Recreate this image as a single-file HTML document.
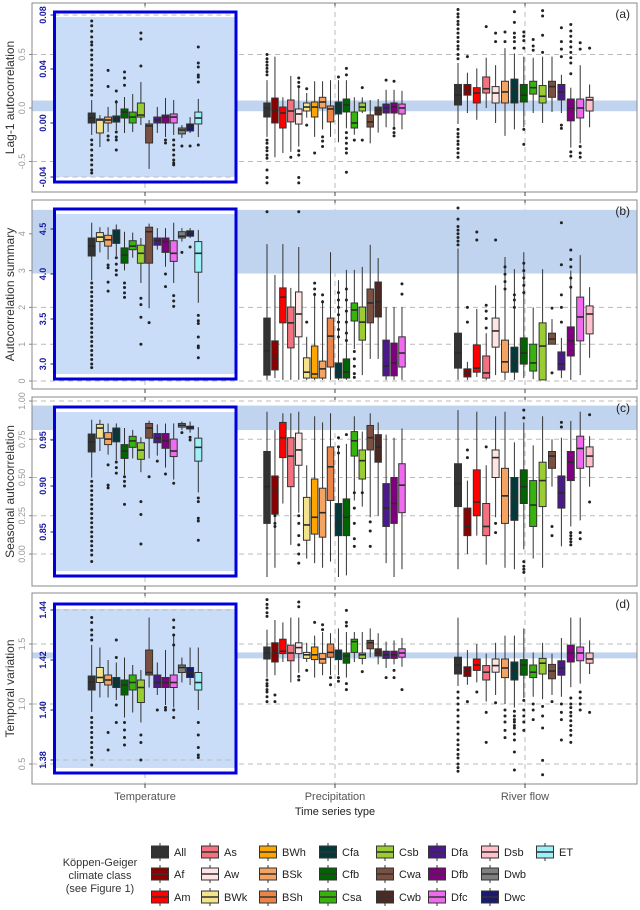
<!DOCTYPE html>
<html><head><meta charset="utf-8"><style>
body{margin:0;background:#fff;}
svg{display:block;font-family:"Liberation Sans",sans-serif;}
</style></head><body>
<svg id="fig" width="640" height="910" viewBox="0 0 640 910" xmlns="http://www.w3.org/2000/svg"></svg>
<script>
// ---------- class colours ----------
const classColors={All:"#333333",Af:"#8b0000",Am:"#ff0000",As:"#f4717f",Aw:"#ffe4e4",BWk:"#f2e38c",BWh:"#ffa500",BSk:"#f4a460",BSh:"#ea8449",Cfa:"#053838",Cfb:"#006400",Csa:"#37b40c",Csb:"#9acd32",Cwa:"#7b5040",Cwb:"#4a2a22",Dfa:"#4b1a8a",Dfb:"#800080",Dfc:"#ee6aee",Dsb:"#ffc0cb",Dwb:"#808080",Dwc:"#1a1a6e",ET:"#9ef0f8"};
const tempClasses=["All","BWk","BSk","Cfa","Cfb","Csa","Csb","Cwa","Dfa","Dfb","Dfc","Dwb","Dwc","ET"];
const precClasses=["All","Af","Am","As","Aw","BWk","BWh","BSk","BSh","Cfa","Cfb","Csa","Csb","Cwa","Cwb","Dfa","Dfb","Dfc"];
const riverClasses=["All","Af","Am","As","Aw","BSk","Cfa","Cfb","Csa","Csb","Cwa","Dfa","Dfb","Dfc","Dsb"];
const groupLabels=["Temperature","Precipitation","River flow"];

// ---------- panel (a) Lag-1 autocorrelation: [lo,q1,med,q3,hi] ----------
const aTempStats=[[-0.0089,0,0.0037,0.0074,0.017],[-0.0178,-0.0074,0.0022,0.003,0.0059],[-0.0067,0,0.0022,0.0044,0.0119],[-0.0052,0.0007,0.003,0.0052,0.017],[-0.0074,0.0037,0.0081,0.0104,0.0193],[-0.0067,0,0.0044,0.0081,0.0215],[-0.0015,0.0044,0.0059,0.0148,0.0304],[-0.034,-0.0148,-0.0022,-0.0007,0.0022],[-0.0074,0,0.0022,0.0044,0.0119],[-0.0104,0,0.0044,0.0059,0.0185],[-0.0089,0,0.0044,0.0067,0.017],[-0.0111,-0.0081,-0.0052,-0.0037,-0.0015],[-0.0074,-0.0059,-0.003,-0.0007,0.0044],[-0.0104,-0.0007,0.0037,0.0081,0.0178]];
const aTempOut=[[0.0756,0.072,0.068,0.0637,0.06,0.0578,0.054,0.0504,0.047,0.043,0.039,0.0356,0.032,0.028,0.024,0.0207,-0.0126,-0.016,-0.02,-0.024,-0.0274,-0.031,-0.0348,-0.037],[],[0.039,0.027,-0.0096,-0.0126],[0.0237,0.0156,-0.0067,-0.0104,-0.0126,-0.02],[0.0378,0.0333,0.028],[],[0.0667,0.0622,0.0422],[],[],[-0.0126,-0.0148],[-0.0126,-0.0163,-0.02,-0.0237,-0.0274,-0.0296,-0.031],[-0.017],[-0.017],[0.0563,0.0444,0.0415,0.0356,0.034,0.0304,-0.0163]];
const aPrecStats=[[-0.27,-0.084,0,0.047,0.26],[-0.46,-0.14,-0.019,0.093,0.48],[-0.42,-0.187,-0.047,0.009,0.1],[-0.41,-0.13,-0.028,0.075,0.3],[-0.36,-0.15,-0.056,-0.009,0.2],[-0.09,-0.028,0.009,0.047,0.14],[-0.27,-0.084,0.009,0.056,0.25],[-0.2,0,0.056,0.1,0.25],[-0.27,-0.13,-0.009,0.019,0.26],[-0.32,-0.056,0.009,0.056,0.26],[-0.19,-0.037,0.028,0.084,0.26],[-0.25,-0.187,-0.14,-0.037,0.1],[-0.047,-0.028,0.009,0.047,0.1],[-0.33,-0.178,-0.13,-0.065,0.075],[-0.23,-0.065,-0.019,0.009,0.084],[-0.18,-0.047,0,0.037,0.17],[-0.18,-0.047,0.009,0.047,0.17],[-0.2,-0.056,0,0.037,0.16]];
const aPrecOut=[[0.5,0.46,0.43,0.4,0.37,0.34,0.31,-0.3,-0.33,-0.37,-0.4,-0.44,-0.47,-0.58,-0.65,-0.7],[],[],[-0.46],[0.28,0.24,0.2,-0.4,-0.44,-0.65,-0.7],[0.18,-0.16],[-0.42],[-0.27,-0.31,-0.36],[],[0.29],[0.37,0.31,-0.23,-0.28,-0.33,-0.38,-0.42,-0.6],[-0.3],[0.19,-0.3],[],[],[0.26],[0.25,-0.19,-0.23,-0.26],[]];
const aRiverStats=[[-0.15,0.028,0.12,0.22,0.42],[-0.047,0.12,0.17,0.22,0.33],[-0.11,0.047,0.14,0.19,0.37],[0,0.14,0.18,0.29,0.47],[-0.14,0.047,0.14,0.2,0.4],[-0.26,0.047,0.15,0.25,0.56],[-0.2,0.047,0.18,0.27,0.51],[-0.18,0.056,0.12,0.22,0.48],[-0.047,0.13,0.19,0.25,0.47],[-0.14,0.047,0.11,0.21,0.48],[-0.037,0.1,0.2,0.25,0.48],[-0.047,0.075,0.15,0.22,0.31],[-0.37,-0.12,0,0.084,0.19],[-0.33,-0.093,0,0.084,0.4],[-0.18,-0.028,0.075,0.1,0.22]];
const aRiverOut=[[0.92,0.88,0.85,0.81,0.78,0.74,0.7,0.66,0.62,0.58,0.55,0.5,0.46,-0.2,-0.24,-0.27,-0.31,-0.34,-0.38,-0.42,-0.46],[0.48],[],[0.76],[0.7,0.62],[0.71,0.62],[0.9,0.8,0.7,0.66,0.62,0.56],[0.71,0.67,0.63,0.56,-0.2,-0.34],[0.64,0.58,0.54],[0.91,0.86,0.68,0.52],[],[0.75,0.62,0.55,0.48,-0.16,-0.19],[0.78,0.72,0.67,0.62,0.57,0.52,0.47,0.42,0.32,-0.41,-0.45],[0.61,0.55,-0.36,-0.42,-0.46],[0.56]];

// ---------- panel (b) Autocorrelation summary ----------
const bTempStats=[[3.93,4.2,4.31,4.4,4.57],[4.24,4.36,4.41,4.46,4.52],[4.16,4.31,4.38,4.43,4.52],[4.2,4.34,4.4,4.49,4.55],[4.04,4.12,4.21,4.29,4.47],[4.18,4.27,4.31,4.37,4.46],[3.9,4.12,4.23,4.32,4.4],[3.62,4.12,4.47,4.52,4.56],[4.27,4.32,4.37,4.4,4.51],[4.08,4.24,4.36,4.4,4.51],[3.9,4.14,4.23,4.37,4.57],[4.36,4.4,4.42,4.47,4.51],[4.4,4.42,4.46,4.48,4.51],[3.68,4.02,4.23,4.36,4.49]];
const bTempOut=[[3.9,3.85,3.8,3.75,3.7,3.65,3.6,3.55,3.5,3.45,3.4,3.35,3.3,3.25,3.2,3.15,3.1,3.05,3.0,2.96],[],[4.1,4.07,3.91,3.81],[4.18,4.11,4.04,3.99],[3.9,3.85,3.79,3.74],[],[3.73,3.66,3.52,3.22],[3.46],[],[4.0,3.86],[3.76,3.7,3.64],[4.24],[4.3],[3.54,3.48,3.45,3.3,3.2,3.18,3.07]];
const bPrecStats=[[0.03,0.16,0.82,1.71,3.72],[0.08,0.3,0.63,1.09,2.88],[0.03,1.58,2.28,2.53,3.72],[0.03,0.9,1.58,2.01,2.53],[0.03,1.2,1.82,2.42,3.64],[0.03,0.08,0.24,0.63,1.2],[0.03,0.08,0.19,0.95,2.4],[0.03,0.08,0.33,0.54,2.2],[0.03,0.38,1.22,1.71,3.5],[0.03,0.08,0.22,0.49,2.74],[0.03,0.08,0.24,0.6,3.02],[0.87,1.63,1.93,2.12,3.02],[0.16,1.11,1.6,2.01,3.1],[0.6,1.58,2.12,2.5,3.7],[0.6,1.74,2.15,2.69,3.34],[0.03,0.14,0.41,1.11,2.01],[0.03,0.14,0.49,1.03,2.01],[0.03,0.38,0.76,1.2,2.01]];
const bPrecOut=[[4.6],[],[],[],[4.6],[1.6],[2.66,2.5,2.35],[2.34,2.15],[],[2.4,2.2,2.0,1.8,1.6,1.4,1.2],[2.5,2.2,1.9,1.6,1.3,1.1],[0.8,0.6,0.4,0.2,0.1],[],[],[],[],[],[2.64,2.36]];
const bRiverStats=[[0.03,0.35,0.76,1.3,3.6],[0.03,0.11,0.22,0.33,0.52],[0.11,0.24,0.35,0.98,1.96],[0.03,0.08,0.22,0.68,1.3],[0.16,0.92,1.36,1.71,2.6],[0.03,0.24,0.52,1.11,3.37],[0.03,0.24,0.54,0.92,3.04],[0.08,0.46,0.76,1.17,3.5],[0.05,0.27,0.49,1.0,2.0],[0.03,0.03,0.95,1.58,3.04],[1.0,1.0,1.14,1.3,1.68],[0.08,0.3,0.46,0.79,1.17],[0.03,0.68,1.09,1.47,3.0],[0.16,1.09,1.74,2.28,3.42],[0.63,1.28,1.82,2.04,2.55]];
const bRiverOut=[[4.7,4.4,4.2,4.1,4.0,3.9,3.8,3.7],[2.0,1.6],[4.05,3.83],[2.06,1.9,1.7,1.44],[3.83],[3.1,2.9,2.7,2.5],[2.34,2.2,2.0],[3.2,3.0,2.8,2.6,2.4],[],[],[1.98,0.22],[4.3,3.16,2.34,2.0,1.6],[3.56,3.3,3.1,2.8,2.55],[],[]];

// ---------- panel (c) Seasonal autocorrelation ----------
const cTempStats=[[0.909,0.937,0.948,0.9565,0.972],[0.938,0.952,0.963,0.967,0.972],[0.934,0.945,0.951,0.958,0.968],[0.928,0.948,0.959,0.963,0.968],[0.912,0.93,0.938,0.945,0.963],[0.93,0.942,0.949,0.954,0.961],[0.915,0.929,0.939,0.947,0.953],[0.93,0.952,0.963,0.968,0.971],[0.933,0.947,0.952,0.957,0.967],[0.92,0.941,0.949,0.957,0.968],[0.907,0.932,0.938,0.951,0.968],[0.961,0.964,0.966,0.968,0.97],[0.958,0.962,0.964,0.965,0.97],[0.893,0.927,0.942,0.952,0.964]];
const cTempOut=[[0.905,0.9,0.895,0.89,0.885,0.88,0.875,0.87,0.865,0.86,0.855,0.85,0.845,0.84,0.835,0.83,0.825,0.818],[],[0.923,0.901,0.898],[0.926,0.92,0.914],[0.91,0.905,0.9,0.88],[],[0.883,0.869,0.837],[0.91],[0.927],[0.913],[0.903],[0.958],[0.953,0.95],[0.887,0.883,0.865,0.862,0.841]];
const cPrecStats=[[-0.15,0.2,0.44,0.67,0.93],[-0.09,0.26,0.41,0.51,0.81],[0.33,0.63,0.76,0.86,0.92],[0.06,0.44,0.64,0.76,0.92],[0.27,0.58,0.68,0.79,0.93],[-0.03,0.09,0.19,0.37,0.58],[-0.06,0.13,0.24,0.49,0.9],[-0.09,0.11,0.27,0.43,0.86],[-0.05,0.35,0.57,0.7,0.92],[-0.15,0.12,0.2,0.33,0.7],[-0.14,0.12,0.24,0.36,0.72],[0.35,0.64,0.74,0.8,0.9],[0.31,0.49,0.61,0.68,0.8],[0.24,0.68,0.76,0.84,0.92],[0.25,0.6,0.7,0.78,0.86],[-0.06,0.18,0.3,0.46,0.78],[-0.15,0.2,0.33,0.5,0.76],[-0.1,0.27,0.45,0.59,0.82]];
const cPrecOut=[[],[0.25,0.2,0.18],[],[],[0.25,0.2,0.12,0.06,0.0,-0.06],[],[],[],[],[0.76,0.7,0.66],[0.78],[0.4,0.3,0.2,0.1,0.05],[0.4],[0.21,0.15,0.05],[],[],[],[]];
const cRiverStats=[[-0.1,0.31,0.46,0.59,0.94],[0,0.12,0.18,0.3,0.48],[0.12,0.25,0.34,0.55,0.93],[-0.07,0.12,0.18,0.33,0.58],[0.24,0.5,0.63,0.68,0.9],[-0.09,0.2,0.38,0.56,0.93],[-0.1,0.22,0.37,0.5,0.73],[0.03,0.33,0.44,0.55,0.86],[-0.03,0.18,0.32,0.48,0.71],[-0.09,0.31,0.48,0.6,0.9],[0.44,0.56,0.64,0.67,0.75],[0.05,0.3,0.4,0.51,0.76],[0.18,0.48,0.6,0.67,0.87],[0.22,0.56,0.69,0.77,0.93],[0.44,0.57,0.64,0.7,0.77]];
const cRiverOut=[[],[0.68,0.63],[],[0.7],[0.2,0.14],[],[],[0.94,0.89,-0.05,-0.08,-0.1,-0.12],[],[],[0.18,0.12],[0.86,0.83],[0.14,0.12,0.1,0.08,0.06],[0.14,0.1],[0.91,0.34]];

// ---------- panel (d) Temporal variation ----------
const dTempStats=[[1.3992,1.408,1.4112,1.4136,1.426],[1.405,1.411,1.413,1.417,1.425],[1.405,1.41,1.412,1.414,1.42],[1.404,1.409,1.411,1.413,1.419],[1.397,1.406,1.41,1.412,1.421],[1.399,1.408,1.411,1.414,1.418],[1.395,1.403,1.409,1.412,1.416],[1.409,1.414,1.415,1.424,1.437],[1.406,1.409,1.411,1.414,1.419],[1.402,1.409,1.411,1.413,1.424],[1.401,1.409,1.411,1.414,1.43],[1.411,1.415,1.417,1.418,1.421],[1.41,1.413,1.415,1.417,1.425],[1.4,1.408,1.411,1.415,1.425]];
const dTempOut=[[1.437,1.435,1.432,1.43,1.428,1.397,1.395,1.393,1.391,1.389,1.387,1.385,1.383,1.381,1.378],[],[1.391,1.384],[1.428,1.421,1.402,1.395],[1.395,1.392,1.389,1.386],[],[1.39,1.387,1.38],[],[1.4],[1.401,1.4],[1.436,1.433,1.43,1.426,1.4,1.397],[],[],[1.395,1.39,1.385,1.382,1.381]];
const dPrecStats=[[1.22,1.375,1.425,1.475,1.62],[1.24,1.35,1.425,1.51,1.7],[1.35,1.42,1.44,1.54,1.68],[1.18,1.36,1.425,1.49,1.72],[1.26,1.42,1.47,1.51,1.72],[1.35,1.38,1.41,1.43,1.51],[1.22,1.37,1.41,1.475,1.57],[1.24,1.34,1.375,1.42,1.6],[1.24,1.39,1.43,1.5,1.59],[1.24,1.37,1.41,1.45,1.63],[1.22,1.34,1.4,1.425,1.6],[1.35,1.43,1.52,1.54,1.6],[1.33,1.38,1.41,1.425,1.6],[1.39,1.46,1.51,1.53,1.63],[1.33,1.4,1.425,1.46,1.59],[1.3,1.38,1.41,1.44,1.52],[1.33,1.38,1.41,1.44,1.53],[1.31,1.39,1.425,1.46,1.55]];
const dPrecOut=[[1.87,1.83,1.8,1.76,1.73,1.2,1.17,1.15,1.12,1.1,1.06,1.02],[1.075,1.02],[],[],[1.85,1.81,1.23,1.2],[1.28],[1.68],[1.66,1.62],[1.22,1.16],[1.22,1.19],[1.78,1.68,1.65,1.17,1.12],[],[1.27],[],[],[1.22],[1.28,1.22],[1.12]];
const dRiverStats=[[1.15,1.25,1.325,1.39,1.72],[1.16,1.23,1.275,1.31,1.45],[1.18,1.28,1.325,1.375,1.5],[1.02,1.2,1.265,1.32,1.42],[1.075,1.265,1.32,1.375,1.51],[1.0,1.22,1.3,1.375,1.57],[0.97,1.2,1.28,1.35,1.57],[1.05,1.24,1.325,1.37,1.63],[1.06,1.22,1.265,1.325,1.43],[1.04,1.25,1.34,1.38,1.51],[1.075,1.21,1.275,1.33,1.42],[1.06,1.24,1.3,1.36,1.55],[1.14,1.35,1.425,1.49,1.72],[1.17,1.36,1.425,1.475,1.72],[1.25,1.34,1.375,1.425,1.53]];
const dRiverOut=[[1.1,1.05,1.0,0.95,0.9,0.85,0.8,0.75,0.7,0.66,0.62,0.58,0.55,0.5,0.47,0.44],[1.02],[1.1],[0.93,0.68],[1.01],[0.95,0.9,0.85,0.78,0.72],[0.94,0.9,0.87,0.85,0.82,0.8,0.75,0.7,0.6,0.45],[1.03,0.95,0.9,0.85,0.78],[1.0,0.95,0.87],[0.98,0.9,0.8,0.53,0.41],[1.02],[1.0,0.93,0.87,0.7],[1.05,1.0,0.97,0.93,0.9,0.86,0.82,0.78,0.74,0.68],[1.1,1.05,1.0,0.95],[0.93]];

// ---------- axis tick labels ----------
const aGrayTicks=[-0.5,0.0,0.5], aGrayLabels=["-0.5","0.0","0.5"];
const aBlueTicks=[-0.04,0.0,0.04,0.08], aBlueLabels=["-0.04","0.00","0.04","0.08"];
const bGrayTicks=[0,1,2,3,4], bGrayLabels=["0","1","2","3","4"];
const bBlueTicks=[3.0,3.5,4.0,4.5], bBlueLabels=["3.0","3.5","4.0","4.5"];
const cGrayTicks=[0,0.25,0.5,0.75,1.0], cGrayLabels=["0.00","0.25","0.50","0.75","1.00"];
const cBlueTicks=[0.85,0.90,0.95], cBlueLabels=["0.85","0.90","0.95"];
const dGrayTicks=[0.5,1.0,1.5], dGrayLabels=["0.5","1.0","1.5"];
const dBlueTicks=[1.38,1.40,1.42,1.44], dBlueLabels=["1.38","1.40","1.42","1.44"];
const aBand=[-0.03,0.07], bBand=[2.92,4.65], cBand=[0.81,0.97], dBand=[1.38,1.43];

// ---------- drawing ----------
const NS="http://www.w3.org/2000/svg";
const svg=document.getElementById("fig");
function el(tag,attrs,parent){const e=document.createElementNS(NS,tag);for(const k in attrs)e.setAttribute(k,attrs[k]);(parent||svg).appendChild(e);return e;}
const L=32,R=637,BX0=54.5,BX1=236;
const groupX=[145,335,525];

const panels=[
 {key:"a",label:"(a)",title:"Lag-1 autocorrelation",top:3,bot:192,btop:12,bbot:182,
  gray:v=>108-107*v,blue:v=>123-1350*v,gT:aGrayTicks,gL:aGrayLabels,bT:aBlueTicks,bL:aBlueLabels,band:aBand,
  temp:[aTempStats,aTempOut],prec:[aPrecStats,aPrecOut],riv:[aRiverStats,aRiverOut],extraDash:[0.08,-0.04]},
 {key:"b",label:"(b)",title:"Autocorrelation summary",top:200,bot:389,btop:209,bbot:379,
  gray:v=>381-36.8*v,blue:v=>634-90*v,gT:bGrayTicks,gL:bGrayLabels,bT:bBlueTicks,bL:bBlueLabels,band:bBand,
  temp:[bTempStats,bTempOut],prec:[bPrecStats,bPrecOut],riv:[bRiverStats,bRiverOut],extraDash:[]},
 {key:"c",label:"(c)",title:"Seasonal autocorrelation",top:397,bot:586,btop:407,bbot:576,
  gray:v=>554-153*v,blue:v=>440-920*(v-0.95),gT:cGrayTicks,gL:cGrayLabels,bT:cBlueTicks,bL:cBlueLabels,band:cBand,
  temp:[cTempStats,cTempOut],prec:[cPrecStats,cPrecOut],riv:[cRiverStats,cRiverOut],extraDash:[]},
 {key:"d",label:"(d)",title:"Temporal variation",top:593,bot:784,btop:604,bbot:773,
  gray:v=>824-120*v,blue:v=>660-2500*(v-1.42),gT:dGrayTicks,gL:dGrayLabels,bT:dBlueTicks,bL:dBlueLabels,band:dBand,
  temp:[dTempStats,dTempOut],prec:[dPrecStats,dPrecOut],riv:[dRiverStats,dRiverOut],extraDash:[1.44,1.38]}
];

function drawBox(g,cx,w,s,outs,y,col){
  const [lo,q1,md,q3,hi]=s;
  const wl=el("line",{x1:cx,x2:cx,y1:y(hi),y2:y(lo),stroke:"#333","stroke-width":1},g);
  
  
  const top=Math.min(y(q1),y(q3)),h=Math.max(1,Math.abs(y(q1)-y(q3)));
  const r=el("rect",{x:cx-w/2,y:top,width:w,height:h,fill:col,stroke:"#333","stroke-width":1},g);
  
  
  const m=el("line",{x1:cx-w/2,x2:cx+w/2,y1:y(md),y2:y(md),stroke:"#2a2a2a","stroke-width":1.6},g);
  
  
  for(const o of outs){
    const c=el("circle",{cx:cx,cy:y(o),r:1.5,fill:"#222"},g);
    
    
  }
}

panels.forEach(p=>{
  const g=el("g",{});
  
  
  // gray dashed gridlines
  p.gT.forEach(t=>{const yy=p.gray(t);if(yy>p.top&&yy<p.bot){const l=el("line",{x1:L,x2:R,y1:yy,y2:yy,stroke:"#bbb","stroke-dasharray":"5,4","stroke-width":1},g);}});
  // vertical dashed
  groupX.forEach(x=>{const l=el("line",{x1:x,x2:x,y1:p.top,y2:p.bot,stroke:"#bbb","stroke-dasharray":"5,4"},g);});
  // band
  const by1=p.gray(p.band[1]),by0=p.gray(p.band[0]);
  const band=el("rect",{x:L,y:Math.max(p.top,by1),width:R-L,height:Math.min(p.bot,by0)-Math.max(p.top,by1),fill:"#c0d4ef"},g);
  
  
  // frame
  const fr=el("rect",{x:L,y:p.top,width:R-L,height:p.bot-p.top,fill:"none",stroke:"#888","stroke-width":1},g);
  
  
  // ticks top/bottom
  groupX.forEach(x=>{el("line",{x1:x,x2:x,y1:p.bot,y2:p.bot+4,stroke:"#444"},g);el("line",{x1:x,x2:x,y1:p.top,y2:p.top+3,stroke:"#444"},g);});
  // gray y ticks + labels
  p.gT.forEach((t,i)=>{const yy=p.gray(t);el("line",{x1:L-3,x2:L,y1:yy,y2:yy,stroke:"#888"},g);
    const tx=el("text",{x:0,y:0,transform:`translate(25,${yy}) rotate(-90)`,"text-anchor":"middle","font-size":9,fill:"#999"},g);tx.textContent=p.gL[i];
    });
  // inset box
  const ib=el("rect",{x:BX0,y:p.btop,width:BX1-BX0,height:p.bbot-p.btop,fill:"#ffffff",stroke:"none"},g);
  const inner=el("rect",{x:BX0,y:p.btop+5,width:BX1-BX0,height:p.bbot-p.btop-10,fill:"#c9ddf8"},g);
  
  
  p.extraDash.forEach(t=>{const yy=p.blue(t);el("line",{x1:BX0,x2:BX1,y1:yy,y2:yy,stroke:"#bbb","stroke-dasharray":"5,4"},g);});
  // blue y ticks
  p.bT.forEach((t,i)=>{const yy=p.blue(t);el("line",{x1:BX0-4,x2:BX0,y1:yy,y2:yy,stroke:"#1a1ab0"},g);
    const tx=el("text",{x:0,y:0,transform:`translate(46,${yy}) rotate(-90)`,"text-anchor":"middle","font-size":9,"font-weight":"bold",fill:"#1a1aa0"},g);tx.textContent=p.bL[i];
    });
  // boxes
  tempClasses.forEach((c,i)=>drawBox(g,91.7+8.2*i,7,p.temp[0][i],p.temp[1][i],p.blue,classColors[c]));
  precClasses.forEach((c,i)=>drawBox(g,267+7.94*i,6.5,p.prec[0][i],p.prec[1][i],p.gray,classColors[c]));
  riverClasses.forEach((c,i)=>drawBox(g,458+9.4*i,7,p.riv[0][i],p.riv[1][i],p.gray,classColors[c]));
  const ob=el("rect",{x:BX0,y:p.btop,width:BX1-BX0,height:p.bbot-p.btop,fill:"none",stroke:"#0000dd","stroke-width":3},g);
  
  
  // labels
  const pl=el("text",{x:630,y:p.top+15,"text-anchor":"end","font-size":12,fill:"#222"},g);pl.textContent=p.label;
  
  const yt=el("text",{x:0,y:0,transform:`translate(14,${(p.top+p.bot)/2}) rotate(-90)`,"text-anchor":"middle","font-size":12,fill:"#333"},g);yt.textContent=p.title;
  
});

// x labels
groupLabels.forEach((t,i)=>{const tx=el("text",{x:groupX[i],y:800,"text-anchor":"middle","font-size":11,fill:"#555"});tx.textContent=t;
  });
const xt=el("text",{x:335,y:815,"text-anchor":"middle","font-size":11,fill:"#222"});xt.textContent="Time series type";


// legend
const legendOrder=[["All","Af","Am"],["As","Aw","BWk"],["BWh","BSk","BSh"],["Cfa","Cfb","Csa"],["Csb","Cwa","Cwb"],["Dfa","Dfb","Dfc"],["Dsb","Dwb","Dwc"],["ET"]];
const legX=[160,210,268,328,385,437,490,545], legY=[852,874,897];
const lg=el("g",{});


["Köppen-Geiger","climate class","(see Figure 1)"].forEach((t,i)=>{const tx=el("text",{x:100,y:866+i*13,"text-anchor":"middle","font-size":11,fill:"#333"},lg);tx.textContent=t;
  });
legendOrder.forEach((col,ci)=>col.forEach((c,ri)=>{
  const cx=legX[ci],cy=legY[ri];
  const e=el("g",{},lg);
  
  
  el("line",{x1:cx,x2:cx,y1:cy-9,y2:cy+9,stroke:"#333"},e);
  el("rect",{x:cx-8.5,y:cy-6,width:17,height:12,fill:classColors[c],stroke:"#333"},e);
  el("line",{x1:cx-8.5,x2:cx+8.5,y1:cy,y2:cy,stroke:"#333","stroke-width":1.4},e);
  const tx=el("text",{x:cx+14,y:cy+4,"font-size":11,fill:"#222"},e);tx.textContent=c;
}));
</script>
</body></html>
